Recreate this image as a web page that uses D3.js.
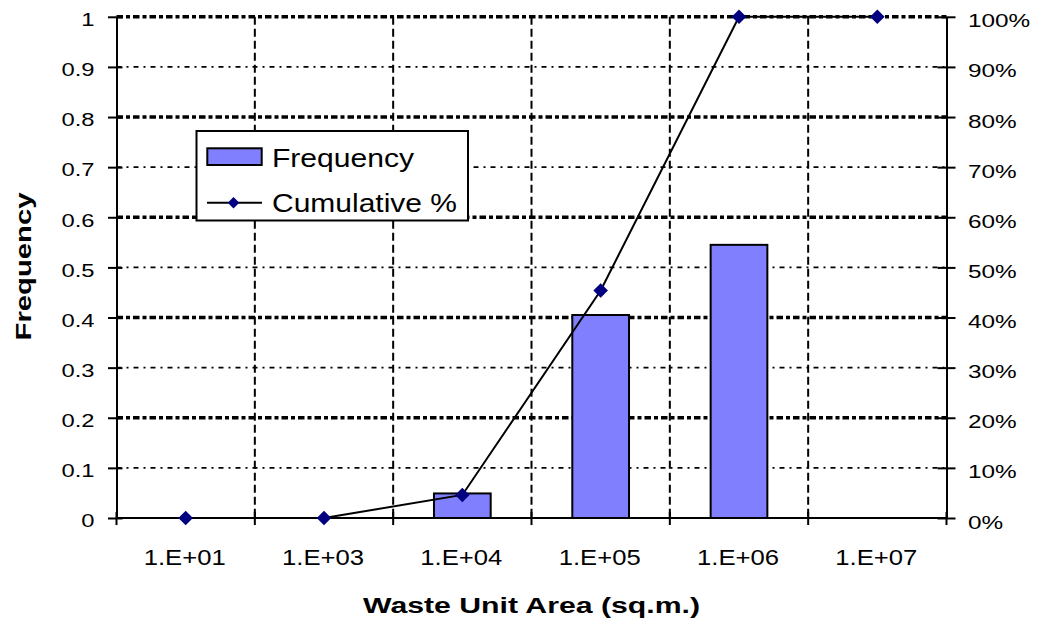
<!DOCTYPE html>
<html><head><meta charset="utf-8">
<script src="https://cdn.jsdelivr.net/npm/d3@7/dist/d3.min.js"></script>
<style>body{margin:0;background:#fff;}svg{display:block;font-family:Arial,"Liberation Sans",sans-serif;}</style>
</head><body><svg id="c" width="1037" height="628"></svg>
<script>
const categories = ["1.E+01","1.E+03","1.E+04","1.E+05","1.E+06","1.E+07"];
const frequency = [0, 0, 0.049, 0.405, 0.545, 0];
const cumulative = [0, 0, 4.6, 45.4, 100, 100];
const leftTicks = [0,0.1,0.2,0.3,0.4,0.5,0.6,0.7,0.8,0.9,1];
const rightTicks = [0,10,20,30,40,50,60,70,80,90,100];

const svg = d3.select("#c");
const L=116.5, R=946.5, T=16.8, B=518;
const x = d3.scaleBand().domain(categories).range([L,R]).paddingInner(0).paddingOuter(0);
const y = d3.scaleLinear().domain([0,1]).range([B,T]);
const y2 = d3.scaleLinear().domain([0,100]).range([B,T]);

function stretch(sel, factor){
  sel.each(function(){
    const n = this.getComputedTextLength();
    d3.select(this).attr("textLength", n*factor).attr("lengthAdjust","spacingAndGlyphs");
  });
}

// horizontal grid
const g = svg.append("g");
leftTicks.forEach((t,i)=>{
  if (i===0) return;
  if (i%2===0) {
    g.append("line").attr("x1",L).attr("x2",R).attr("y1",y(t)).attr("y2",y(t))
      .attr("stroke","#000").attr("stroke-width",3.5).attr("stroke-dasharray","6.5,3,4,3");
  } else {
    g.append("line").attr("x1",L).attr("x2",R).attr("y1",y(t)).attr("y2",y(t))
      .attr("stroke","#000").attr("stroke-width",1.6).attr("stroke-dasharray","5,5,2,5");
  }
});
// vertical grid at category boundaries
categories.forEach((c,i)=>{
  if(i===0) return;
  const xv = x(c);
  g.append("line").attr("x1",xv).attr("x2",xv).attr("y1",T).attr("y2",B)
    .attr("stroke","#000").attr("stroke-width",2).attr("stroke-dasharray","8,4");
});

// bars
const bw = x.bandwidth()*0.41;
svg.append("g").selectAll("rect").data(categories.map((c,i)=>({c,v:frequency[i]})).filter(d=>d.v>0))
  .join("rect")
  .attr("x",d=>x(d.c)+x.bandwidth()/2-bw/2).attr("width",bw)
  .attr("y",d=>y(d.v)).attr("height",d=>B-y(d.v))
  .attr("fill","#8080FF").attr("stroke","#000").attr("stroke-width",2);

// left axis
const axL = d3.axisLeft(y).tickValues(leftTicks).tickFormat(d=>d===0||d===1?d3.format("d")(d):d3.format(".1f")(d)).tickSizeInner(8).tickSizeOuter(0);
const gl = svg.append("g").attr("transform",`translate(${L},0)`).call(axL);
gl.attr("font-size",null).attr("font-family",null);
gl.select(".domain").attr("stroke-width",2);
gl.selectAll(".tick line").attr("x2",-8.5).attr("x1",6).attr("stroke-width",2);
const glt = gl.selectAll("text").style("font-size","19px").attr("fill","#000").attr("x",-22).attr("dy",null).attr("y",8.8);
stretch(glt, 1.25);

// right axis
const axR = d3.axisRight(y2).tickValues(rightTicks).tickFormat(d=>d+"%").tickSizeInner(8).tickSizeOuter(0);
const gr = svg.append("g").attr("transform",`translate(${R},0)`).call(axR);
gr.attr("font-size",null).attr("font-family",null);
gr.select(".domain").attr("stroke-width",2);
gr.selectAll(".tick line").attr("x1",-9).attr("x2",9).attr("stroke-width",2);
const grt = gr.selectAll("text").style("font-size","19px").attr("fill","#000").attr("x",21.5).attr("dy",null).attr("y",10);
stretch(grt, 1.28);

// x axis
svg.append("line").attr("x1",L).attr("x2",R).attr("y1",B).attr("y2",B).attr("stroke","#000").attr("stroke-width",2);
const bounds = categories.map(c=>x(c)).concat([R]);
bounds.forEach(b=>{
  svg.append("line").attr("x1",b).attr("x2",b).attr("y1",B-6).attr("y2",B+7).attr("stroke","#000").attr("stroke-width",2);
});
const axB = d3.axisBottom(x).tickSize(0).tickPadding(0);
const gb = svg.append("g").attr("transform",`translate(0,${B})`).call(axB);
gb.attr("font-size",null).attr("font-family",null);
gb.select(".domain").remove();
gb.selectAll("text").style("font-size","22px").attr("fill","#000").attr("dy",null).attr("y",47)
  .attr("x",-1).attr("textLength",82).attr("lengthAdjust","spacingAndGlyphs");

// cumulative line
const cx = i => x(categories[i])+x.bandwidth()/2;
const line = d3.line().x((d,i)=>cx(i)).y(d=>y2(d));
svg.append("path").datum(cumulative).attr("d",line).attr("fill","none").attr("stroke","#000").attr("stroke-width",2);
const diamond = d3.symbol().type(d3.symbolDiamond2).size(135);
svg.append("g").selectAll("path").data(cumulative).join("path")
  .attr("transform",(d,i)=>`translate(${cx(i)},${y2(d)})`)
  .attr("d",diamond).attr("fill","#000080");

// titles
svg.append("text").attr("x",531.5).attr("y",613).attr("text-anchor","middle")
  .style("font-size","22px").attr("font-weight","bold").attr("textLength",337).attr("lengthAdjust","spacingAndGlyphs")
  .text("Waste Unit Area (sq.m.)");
svg.append("text").attr("transform","translate(31,266.5) rotate(-90)").attr("text-anchor","middle")
  .style("font-size","22px").attr("font-weight","bold").attr("textLength",148).attr("lengthAdjust","spacingAndGlyphs")
  .text("Frequency");

// legend
const lg = svg.append("g");
lg.append("rect").attr("x",196.5).attr("y",131).attr("width",271.5).attr("height",89.5)
  .attr("fill","#fff").attr("stroke","#000").attr("stroke-width",2);
lg.append("rect").attr("x",207.3).attr("y",148.3).attr("width",54.4).attr("height",16.7)
  .attr("fill","#8080FF").attr("stroke","#000").attr("stroke-width",2);
lg.append("text").attr("x",272).attr("y",166.5).style("font-size","25px")
  .attr("textLength",142).attr("lengthAdjust","spacingAndGlyphs").text("Frequency");
lg.append("line").attr("x1",207).attr("x2",262).attr("y1",202.7).attr("y2",202.7).attr("stroke","#000").attr("stroke-width",2);
lg.append("path").attr("transform","translate(233.5,202.7)").attr("d",d3.symbol().type(d3.symbolDiamond2).size(85)()).attr("fill","#000080");
lg.append("text").attr("x",272).attr("y",211.7).style("font-size","25px")
  .attr("textLength",185).attr("lengthAdjust","spacingAndGlyphs").text("Cumulative %");
</script></body></html>
